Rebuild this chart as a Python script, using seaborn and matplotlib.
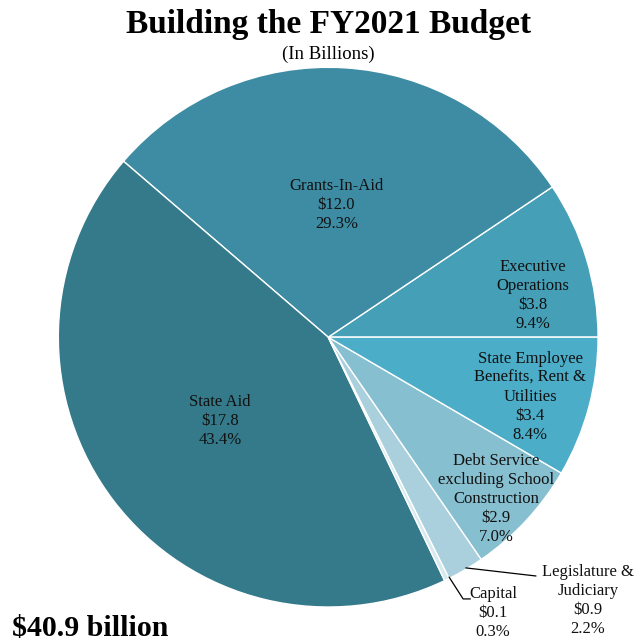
import matplotlib
matplotlib.use("Agg")
import matplotlib.pyplot as plt
import seaborn as sns

# Donnees du graphique (en milliards)
categories = ["Executive\nOperations", "Grants-In-Aid", "State Aid", "Capital",
              "Legislature &\nJudiciary", "Debt Service\nexcluding School\nConstruction",
              "State Employee\nBenefits, Rent &\nUtilities"]
amounts = [3.8, 12.0, 17.8, 0.1, 0.9, 2.9, 3.4]
percents = [9.4, 29.3, 43.4, 0.3, 2.2, 7.0, 8.4]
colors = ["#459fb7", "#3d8ca4", "#357a8a", "#d6eaf0", "#a9d0dc", "#86bfd0", "#4badc8"]

sns.set_theme(style="white")
plt.rcParams["font.family"] = ["Liberation Serif", "DejaVu Serif"]
plt.rcParams["text.color"] = "black"

fig = plt.figure(figsize=(6.41, 6.41), dpi=100)
ax = fig.add_axes([0.091, 0.053, 0.842, 0.842])

wedges, _ = ax.pie(percents, colors=colors, startangle=0, counterclock=True,
                   wedgeprops=dict(edgecolor="white", linewidth=1.0))
ax.set_xlim(-1, 1)
ax.set_ylim(-1, 1)
ax.set_aspect("equal")
ax.axis("off")

# positions des etiquettes (coordonnees de l'axe)
label_pos = [(0.76, 0.156), (0.03, 0.49), (-0.40, -0.311), (0.611, -1.022),
             (0.963, -0.974), (0.622, -0.60), (0.748, -0.222)]

for name, amt, pct, (x, y) in zip(categories, amounts, percents, label_pos):
    txt = f"{name}\n${amt:.1f}\n{pct:.1f}%"
    ax.text(x, y, txt, ha="center", va="center", fontsize=12,
            color="#111111", linespacing=1.25, clip_on=False)

# lignes de rappel pour les petites parts
ax.plot([0.51, 0.77], [-0.855, -0.885], color="black", lw=0.9, clip_on=False)
ax.plot([0.448, 0.50, 0.527], [-0.889, -0.970, -0.970], color="black", lw=0.9, clip_on=False)

fig.text(0.512, 0.962, "Building the FY2021 Budget", ha="center", va="center",
         fontsize=24, fontweight="bold")
fig.text(0.512, 0.916, "(In Billions)", ha="center", va="center", fontsize=13.5)
fig.text(0.018, 0.02, "$40.9 billion", ha="left", va="center",
         fontsize=21.5, fontweight="bold")

fig.savefig("out.png", dpi=100)
